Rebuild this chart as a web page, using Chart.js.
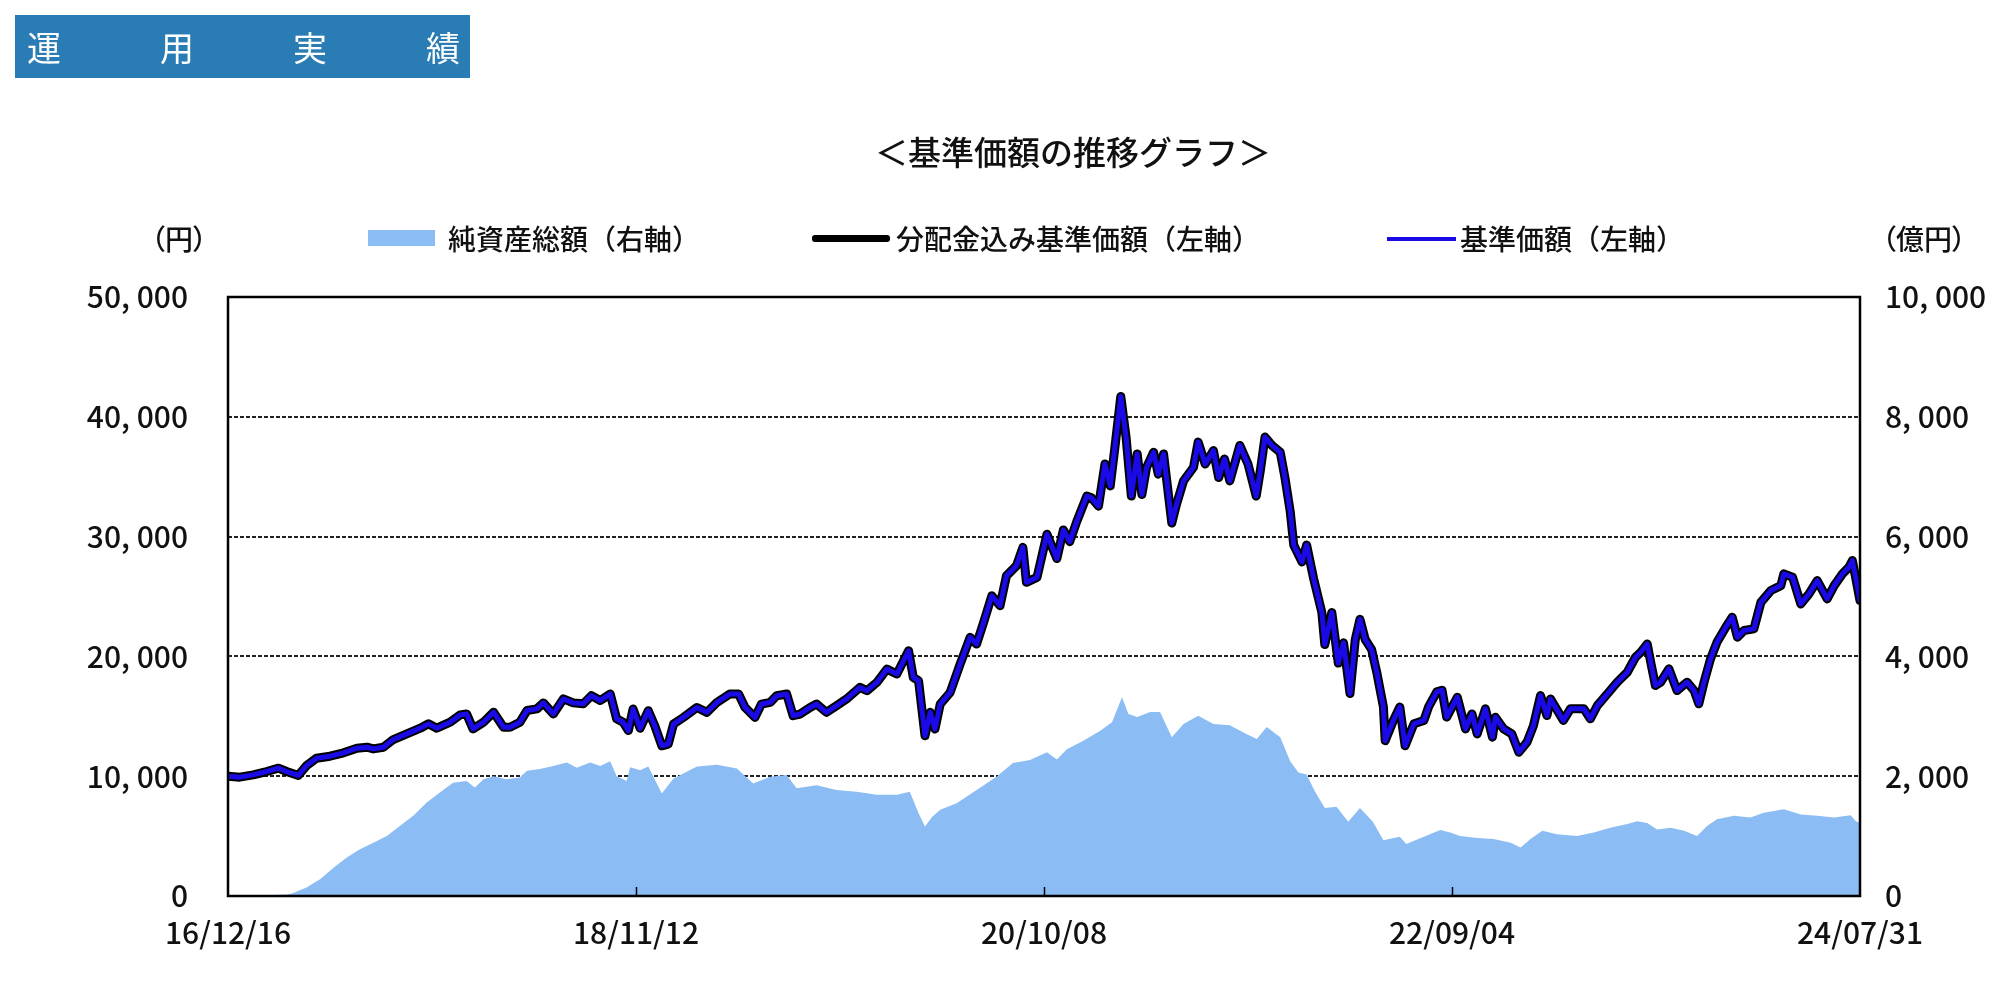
<!DOCTYPE html>
<html lang="ja">
<head>
<meta charset="utf-8">
<title>基準価額の推移グラフ</title>
<script src="https://cdn.jsdelivr.net/npm/chart.js@4/dist/chart.umd.min.js"></script>
<style>
  body { margin: 0; background: #fff; font-family: "Noto Sans CJK JP", sans-serif; color: #111; }
  #page { position: relative; width: 2008px; height: 982px; overflow: hidden; }
  #chart { position: absolute; left: 0; top: 0; }
  .abs { position: absolute; white-space: nowrap; }
  #header { left: 15px; top: 15px; width: 443px; height: 63px; padding-left: 12px; background: #2a7db4;
            color: #fff; font-size: 34px; line-height: 63px; letter-spacing: 99px; }
  #title { left: 0; width: 2146px; top: 130px; text-align: center; font-size: 33px; line-height: 42px; font-weight: 500; }
  .legend { top: 220px; font-size: 28px; line-height: 36px; font-weight: 500; }
  .unit { top: 220px; font-size: 28px; line-height: 36px; font-weight: 500; font-feature-settings: "palt"; }
  .swatch { position: absolute; }
</style>
</head>
<body>
<div id="page">
  <canvas id="chart" width="2008" height="982"></canvas>
  <div id="header" class="abs">運用実績</div>
  <div id="title" class="abs">＜基準価額の推移グラフ＞</div>

  <div class="abs unit" style="left:151px">（円）</div>
  <div class="abs unit" style="left:1882px">（億円）</div>

  <div class="swatch" style="left:368px; top:230px; width:67px; height:16px; background:#8bbcf3"></div>
  <div class="abs legend" style="left:448px">純資産総額（右軸）</div>

  <div class="swatch" style="left:812px; top:235px; width:78px; height:7px; background:#000; border-radius:3px"></div>
  <div class="abs legend" style="left:896px">分配金込み基準価額（左軸）</div>

  <div class="swatch" style="left:1387px; top:237px; width:69px; height:4px; background:#1a0ae6"></div>
  <div class="abs legend" style="left:1460px">基準価額（左軸）</div>
</div>

<script>
// Days counted from 2016/12/16 (fund start) to 2024/07/31
const tickDays = [0, 696, 1392, 2088, 2784];
const tickLabels = ['16/12/16', '18/11/12', '20/10/08', '22/09/04', '24/07/31'];

// 基準価額 (yen)
const navDays = [
  0, 20, 43, 66, 86, 100, 120, 134, 151, 174, 197, 220, 237, 248, 265, 282, 305, 328, 342, 356,
  379, 396, 407, 418, 436, 453, 470, 481, 498, 510, 527, 538, 555, 572, 589, 606, 620, 635, 652, 663,
  674, 683, 691, 703, 717, 728, 740, 751, 760, 777, 800, 817, 834, 856, 871, 882, 899, 910, 925, 936,
  953, 964, 976, 993, 1004, 1021, 1038, 1055, 1078, 1090, 1107, 1124, 1141, 1161, 1169, 1178, 1189, 1198, 1206, 1215,
  1232, 1249, 1266, 1277, 1289, 1303, 1317, 1328, 1345, 1356, 1362, 1380, 1397, 1414, 1425, 1436, 1448, 1465, 1473, 1485,
  1496, 1505, 1513, 1523, 1532, 1541, 1551, 1559, 1567, 1579, 1587, 1596, 1610, 1618, 1630, 1647, 1655, 1667, 1681, 1690,
  1700, 1709, 1726, 1740, 1754, 1761, 1769, 1781, 1795, 1803, 1812, 1818, 1832, 1840, 1852, 1866, 1871, 1883, 1894, 1903,
  1914, 1923, 1931, 1940, 1951, 1960, 1971, 1974, 1988, 1999, 2008, 2023, 2040, 2048, 2062, 2071, 2079, 2097, 2111, 2122,
  2131, 2145, 2157, 2162, 2176, 2190, 2202, 2216, 2227, 2239, 2250, 2256, 2278, 2290, 2313, 2324, 2336, 2353, 2370, 2387,
  2401, 2410, 2421, 2427, 2435, 2444, 2458, 2472, 2489, 2501, 2509, 2518, 2529, 2540, 2555, 2566, 2575, 2586, 2603, 2615,
  2632, 2649, 2654, 2669, 2683, 2697, 2711, 2728, 2740, 2754, 2765, 2771, 2777, 2784
];
const navValues = [
  10000, 9920, 10110, 10390, 10670, 10390, 10060, 10890, 11500, 11670, 11950, 12340, 12420, 12280, 12420, 13060, 13530, 14010, 14370, 14010,
  14510, 15120, 15200, 13950, 14510, 15340, 14090, 14090, 14510, 15480, 15620, 16120, 15200, 16450, 16120, 16040, 16730, 16320, 16870, 14790,
  14510, 13810, 15610, 14000, 15470, 14210, 12540, 12680, 14350, 14910, 15740, 15330, 16160, 16860, 16860, 15740, 14910, 16020, 16160, 16720,
  16860, 15050, 15190, 15740, 16020, 15330, 15880, 16440, 17410, 17140, 17830, 18940, 18530, 20470, 18250, 17970, 13380, 15330, 13940, 16020,
  17000, 19360, 21590, 21030, 22840, 25060, 24230, 26730, 27570, 29100, 26180, 26590, 30200, 28170, 30560, 29580, 31270, 33380, 33240, 32540,
  36060, 34230, 37470, 41690, 38310, 33380, 36900, 33520, 35780, 37040, 35210, 36900, 31130, 32680, 34650, 35780, 37890, 36060, 37180, 34930,
  36480, 34650, 37610, 36060, 33380, 35490, 38310, 37610, 37040, 34930, 32110, 29300, 27890, 29300, 26480, 23660, 20990, 23660, 19440, 21130,
  16900, 21410, 23100, 21410, 20560, 18590, 15780, 12960, 14650, 15780, 12540, 14370, 14650, 15780, 17040, 17180, 14930, 16590, 13950, 15200,
  13530, 15620, 13260, 14920, 13950, 13530, 12000, 12840, 14230, 16730, 15060, 16450, 14650, 15620, 15620, 14790, 15900, 16870, 17850, 18680,
  19930, 20350, 21040, 19510, 17570, 17850, 18960, 17150, 17850, 17150, 16040, 17850, 19790, 21180, 22440, 23270, 21600, 22160, 22300, 24520,
  25500, 25910, 26890, 26610, 24380, 25220, 26330, 24800, 25910, 26890, 27440, 28000, 26470, 24660
];
// 分配金込み基準価額: no distributions were paid, so it coincides with 基準価額
const reinvestedValues = navValues;

// 純資産総額 (億円)
const assetDays = [
  0, 60, 100, 109, 134, 157, 180, 202, 225, 248, 271, 293, 316, 339, 362, 384, 407, 421, 436, 453,
  475, 498, 510, 532, 555, 578, 595, 618, 635, 652, 663, 680, 686, 703, 717, 740, 760, 800, 834, 868,
  896, 925, 953, 970, 1004, 1038, 1072, 1107, 1141, 1163, 1178, 1189, 1201, 1215, 1243, 1277, 1311, 1339, 1368, 1397,
  1414, 1431, 1459, 1488, 1508, 1525, 1536, 1551, 1573, 1590, 1610, 1630, 1655, 1681, 1709, 1738, 1755, 1772, 1795, 1812,
  1826, 1840, 1854, 1871, 1891, 1911, 1931, 1953, 1971, 1999, 2010, 2040, 2068, 2085, 2102, 2131, 2159, 2188, 2205, 2222,
  2242, 2267, 2301, 2330, 2358, 2387, 2404, 2421, 2438, 2461, 2484, 2506, 2523, 2540, 2569, 2597, 2620, 2654, 2683, 2711,
  2740, 2768, 2777, 2784
];
const assetValues = [
  5, 10, 25, 40, 140, 280, 470, 640, 780, 890, 1000, 1170, 1340, 1560, 1730, 1890, 1920, 1810, 1950, 2000,
  1950, 1980, 2090, 2120, 2170, 2230, 2140, 2230, 2170, 2250, 2000, 1920, 2150, 2100, 2160, 1710, 1960, 2160, 2190, 2130,
  1880, 1990, 2020, 1800, 1850, 1770, 1740, 1690, 1690, 1740, 1380, 1160, 1320, 1440, 1550, 1770, 1990, 2220, 2270, 2400,
  2280, 2450, 2590, 2760, 2900, 3320, 3040, 2990, 3070, 3070, 2650, 2870, 3010, 2870, 2850, 2700, 2620, 2820, 2650, 2250,
  2060, 2030, 1750, 1470, 1490, 1240, 1470, 1240, 930, 990, 870, 990, 1100, 1060, 1000, 970, 950, 890, 810, 950,
  1090, 1030, 1000, 1060, 1140, 1200, 1250, 1220, 1110, 1140, 1090, 1000, 1170, 1280, 1340, 1310, 1390, 1450, 1360, 1340,
  1310, 1350, 1250, 1220
];

const toPoints = (xs, ys) => xs.map((x, i) => ({ x: x, y: ys[i] }));
const numFont = { family: 'Noto Sans CJK JP', size: 30, weight: 500 };

// Solid frame round the plot and small inward ticks on the date axis
const framePlugin = {
  id: 'frame',
  afterDatasetsDraw(chart) {
    const { ctx, chartArea: a, scales } = chart;
    ctx.save();
    ctx.strokeStyle = '#000';
    ctx.lineWidth = 1.5;
    tickDays.slice(1, -1).forEach(d => {
      const x = Math.round(scales.x.getPixelForValue(d)) + 0.5;
      ctx.beginPath();
      ctx.moveTo(x, a.bottom);
      ctx.lineTo(x, a.bottom - 9);
      ctx.stroke();
    });
    ctx.lineWidth = 2.5;
    ctx.strokeRect(a.left, a.top, a.right - a.left, a.bottom - a.top);
    ctx.restore();
  }
};

const ctx = document.getElementById('chart').getContext('2d');
new Chart(ctx, {
  type: 'line',
  data: {
    datasets: [
      {
        label: '基準価額（左軸）',
        data: toPoints(navDays, navValues),
        borderColor: '#1a0ae6',
        borderWidth: 5,
        borderJoinStyle: 'round',
        borderCapStyle: 'round',
        pointRadius: 0,
        fill: false,
        yAxisID: 'y'
      },
      {
        label: '分配金込み基準価額（左軸）',
        data: toPoints(navDays, reinvestedValues),
        borderColor: '#000',
        borderWidth: 9,
        borderJoinStyle: 'round',
        borderCapStyle: 'round',
        pointRadius: 0,
        fill: false,
        yAxisID: 'y'
      },
      {
        label: '純資産総額（右軸）',
        data: toPoints(assetDays, assetValues),
        borderColor: 'rgba(0,0,0,0)',
        borderWidth: 0,
        backgroundColor: '#8bbcf3',
        pointRadius: 0,
        fill: 'origin',
        yAxisID: 'y2'
      }
    ]
  },
  options: {
    responsive: false,
    animation: false,
    layout: { padding: { top: 297, left: 0, right: 0, bottom: 0 } },
    plugins: {
      legend: { display: false },
      tooltip: { enabled: false }
    },
    scales: {
      x: {
        type: 'linear',
        min: 0,
        max: 2784,
        afterBuildTicks: s => { s.ticks = tickDays.map(v => ({ value: v })); },
        afterFit: s => { s.height = 86; },
        grid: { display: false },
        border: { display: false },
        ticks: {
          font: numFont,
          color: '#111',
          padding: 11,
          maxRotation: 0,
          autoSkip: false,
          callback: v => tickLabels[tickDays.indexOf(v)]
        }
      },
      y: {
        position: 'left',
        min: 0,
        max: 50000,
        afterFit: s => { s.width = 228; },
        grid: { color: '#222', lineWidth: 2, drawTicks: false },
        border: { display: false, dash: [4, 2] },
        ticks: {
          stepSize: 10000,
          font: numFont,
          color: '#111',
          padding: 40,
          callback: v => v.toLocaleString('en-US').replace(',', ', ')
        }
      },
      y2: {
        position: 'right',
        min: 0,
        max: 10000,
        afterFit: s => { s.width = 148; },
        grid: { drawOnChartArea: false, drawTicks: false },
        border: { display: false },
        ticks: {
          stepSize: 2000,
          font: numFont,
          color: '#111',
          padding: 25,
          callback: v => v.toLocaleString('en-US').replace(',', ', ')
        }
      }
    }
  },
  plugins: [framePlugin]
});
</script>
</body>
</html>
